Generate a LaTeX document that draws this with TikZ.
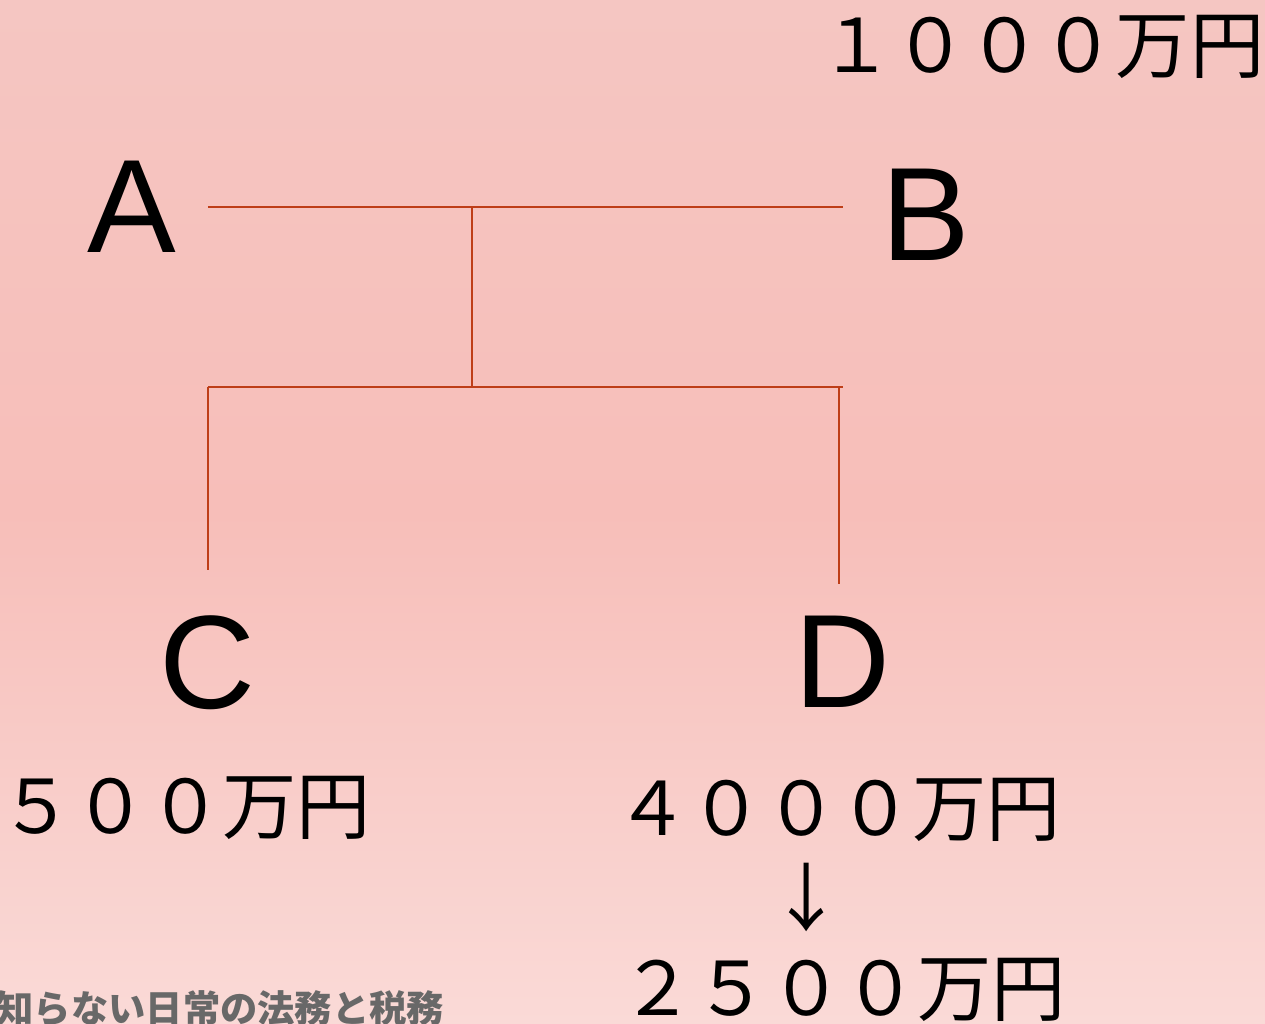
\documentclass[tikz,border=0pt]{standalone}
\usepackage{fontspec}
\setmainfont{Liberation Sans}
\newfontfamily\jpfont{Noto Sans CJK JP}
\usepackage{xcolor}
\usetikzlibrary{positioning,calc}

\definecolor{bgtop}{RGB}{245,198,194}
\definecolor{bgmid}{RGB}{247,190,185}
\definecolor{bgbot}{RGB}{250,218,215}
\definecolor{branch}{RGB}{190,62,24}
\definecolor{markgray}{RGB}{104,104,104}

\tikzset{
  person/.style={inner sep=0pt,font=\fontsize{37.8}{40}\selectfont},
  amount/.style={inner sep=0pt,font=\jpfont\fontsize{21.1}{23}\selectfont},
  line/.style={draw=branch,line width=0.6pt},
}

\begin{document}
\begin{tikzpicture}[x=0.01cm,y=-0.01cm]
    \shade[top color=bgtop,bottom color=bgbot,middle color=bgmid] (0,0) rectangle (1265,1024);
    \useasboundingbox (0,0) rectangle (1265,1024);

    \node[person] (A) at (132,207) {A};
    \node[person] (B) at (926,215) {B};
    \node[person] (C) at (207,663) {C};
    \node[person] (D) at (842,662) {D};

    \node[amount,anchor=east] (b-amt) at (1265,47) {１０００万円};
    \node[amount,anchor=west] (c-amt) at (-1,808) {５００万円};
    \node[amount,anchor=west] (d-amt) at (615,810) {４０００万円};
    \node[amount] (d-arrow) at (807,897) {↓};
    \node[amount,anchor=west] (d-new) at (620,990) {２５００万円};

    \node[inner sep=0pt,anchor=west,text=markgray,font=\jpfont\bfseries\fontsize{10.6}{12}\selectfont] (mark) at (-4,1008) {知らない日常の法務と税務};

    % tree lines
    \coordinate (ab-l) at (208,207);
    \coordinate (ab-r) at (843,207);
    \coordinate (ab-m) at (472,207);
    \coordinate (cd-m) at (472,387);
    \coordinate (cd-l) at (208,387);
    \coordinate (cd-r) at (843,387);
    \coordinate (c-top) at (208,570);
    \coordinate (d-hang) at (839,387);
    \coordinate (d-top) at (839,584);

    \draw[line] (ab-l) -- (ab-r);
    \draw[line] (ab-m) -- (cd-m);
    \draw[line] (cd-l) -- (cd-r);
    \draw[line] (cd-l) -- (c-top);
    \draw[line] (d-hang) -- (d-top);
\end{tikzpicture}
\end{document}
